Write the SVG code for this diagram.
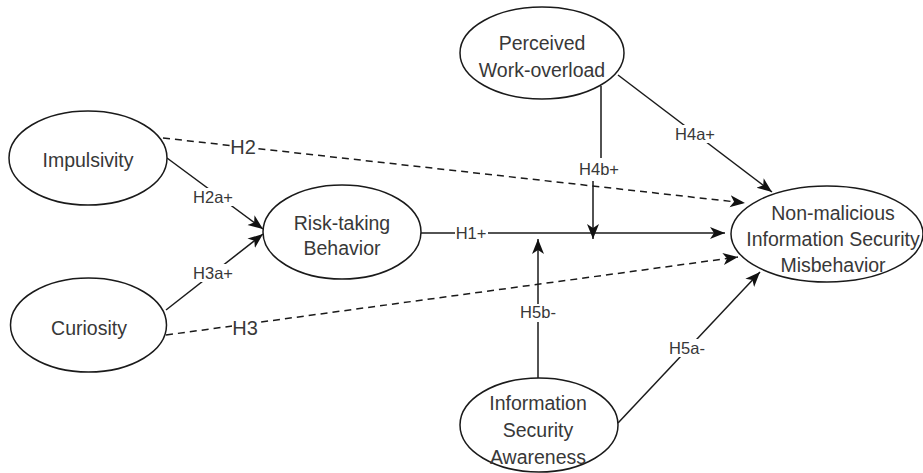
<svg xmlns="http://www.w3.org/2000/svg" width="923" height="473" viewBox="0 0 923 473">
<defs>
<marker id="arr" markerUnits="userSpaceOnUse" markerWidth="16" markerHeight="14" viewBox="0 0 16 14" refX="15" refY="7" orient="auto">
<path d="M0,1 L15,7 L0,13 L4,7 Z" fill="#111"/>
</marker>
</defs>
<style>
.node ellipse{fill:#fff;stroke:#1a1a1a;stroke-width:1.5}
.node text{font-family:"Liberation Sans",Arial,sans-serif;font-size:19.5px;fill:#383838;text-anchor:middle}
.edge{fill:none;stroke:#1a1a1a;stroke-width:1.5}
.dash{stroke-dasharray:7 5}
.lbg{fill:#fff}
.lbl{font-family:"Liberation Sans",Arial,sans-serif;font-size:16.5px;fill:#383838;text-anchor:middle}
.big{font-size:20px}
</style>
<rect width="923" height="473" fill="#fff"/>
<g id="connectors">
<path class="edge dash" d="M163,138 L745,203" marker-end="url(#arr)"/>
<path class="edge dash" d="M166,335 L738,257" marker-end="url(#arr)"/>
<path class="edge" d="M167,158 L263,229" marker-end="url(#arr)"/>
<path class="edge" d="M166,310 L263,234" marker-end="url(#arr)"/>
<path class="edge" d="M421,233 L725,233" marker-end="url(#arr)"/>
<path class="edge" d="M601,86 V170 H593 V239" marker-end="url(#arr)"/>
<path class="edge" d="M618,75 L772,192" marker-end="url(#arr)"/>
<path class="edge" d="M538,378 L538,239" marker-end="url(#arr)"/>
<path class="edge" d="M618,423 L760,272" marker-end="url(#arr)"/>
<rect class="lbg" x="230" y="137" width="27" height="20"/>
<text class="lbl big" x="243" y="154">H2</text>
<rect class="lbg" x="232" y="318" width="27" height="20"/>
<text class="lbl big" x="245" y="335">H3</text>
<rect class="lbg" x="192" y="188" width="42" height="18"/>
<text class="lbl" x="213" y="203">H2a+</text>
<rect class="lbg" x="192" y="264" width="42" height="18"/>
<text class="lbl" x="213" y="279">H3a+</text>
<rect class="lbg" x="455" y="225" width="33" height="16"/>
<text class="lbl" x="471" y="239">H1+</text>
<rect class="lbg" x="578" y="158" width="42" height="23"/>
<text class="lbl" x="599" y="175">H4b+</text>
<rect class="lbg" x="674" y="125" width="42" height="18"/>
<text class="lbl" x="695" y="140">H4a+</text>
<rect class="lbg" x="519" y="304" width="38" height="18"/>
<text class="lbl" x="538" y="318">H5b-</text>
<rect class="lbg" x="668" y="339" width="38" height="18"/>
<text class="lbl" x="687" y="354">H5a-</text>
</g>
<g id="impulsivity" class="node">
<ellipse cx="88" cy="158" rx="79" ry="47"/>
<text x="88" y="167">Impulsivity</text>
</g>
<g id="curiosity" class="node">
<ellipse cx="88.5" cy="325" rx="78" ry="47"/>
<text x="89" y="335">Curiosity</text>
</g>
<g id="risk-taking" class="node">
<ellipse cx="342" cy="232" rx="79" ry="47"/>
<text x="342" y="230">Risk-taking</text>
<text x="342" y="255">Behavior</text>
</g>
<g id="work-overload" class="node">
<ellipse cx="542" cy="53" rx="82" ry="46"/>
<text x="542" y="50">Perceived</text>
<text x="542" y="77">Work-overload</text>
</g>
<g id="misbehavior" class="node">
<ellipse cx="827" cy="234" rx="96" ry="48"/>
<text x="833" y="220">Non-malicious</text>
<text x="833" y="246">Information Security</text>
<text x="833" y="272">Misbehavior</text>
</g>
<g id="awareness" class="node">
<ellipse cx="539" cy="425" rx="79" ry="47"/>
<text x="538" y="410">Information</text>
<text x="538" y="437">Security</text>
<text x="538" y="464">Awareness</text>
</g>
</svg>
